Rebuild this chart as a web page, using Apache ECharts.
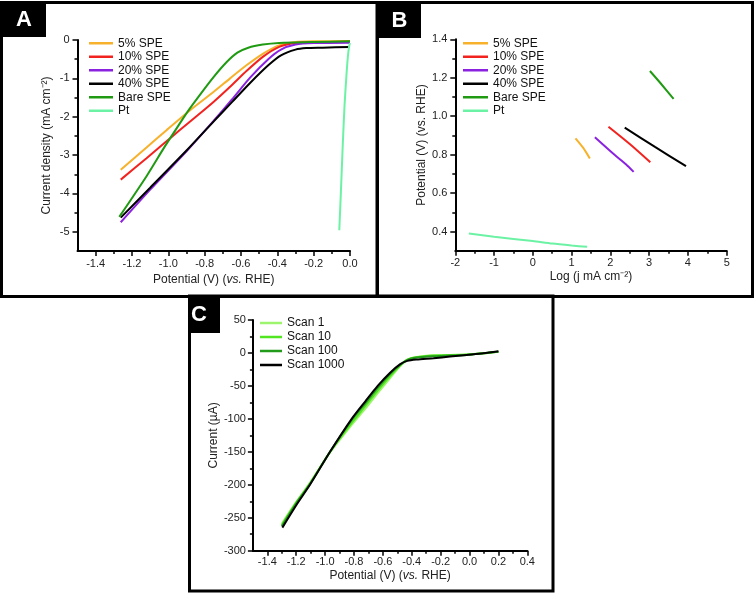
<!DOCTYPE html>
<html><head><meta charset="utf-8">
<script src="https://cdn.jsdelivr.net/npm/echarts@6/dist/echarts.min.js"></script>
<style>html,body{margin:0;padding:0;background:#fff}#c{width:756px;height:594px}</style>
</head><body><div id="c"></div>
<script>
// ---------- Panel A : LSV (current density vs potential) ----------
const namesAB = ['5% SPE','10% SPE','20% SPE','40% SPE','Bare SPE','Pt'];
const colorsAB = ['#F7B12A','#F2221E','#8A22E0','#000000','#1F9A12','#6CF2A4'];
const a5SPE = [[-1.262,-3.38],[-1.12,-2.80],[-1.01,-2.35],[-0.88,-1.83],[-0.75,-1.35],[-0.66,-1.0],[-0.57,-0.66],[-0.48,-0.36],[-0.39,-0.14],[-0.3,-0.055],[-0.2,-0.035],[0,-0.026]];
const a10SPE = [[-1.262,-3.64],[-1.12,-3.08],[-1.02,-2.68],[-0.94,-2.36],[-0.84,-1.97],[-0.75,-1.61],[-0.66,-1.22],[-0.57,-0.81],[-0.48,-0.44],[-0.39,-0.18],[-0.3,-0.08],[-0.2,-0.052],[0,-0.043]];
const a20SPE = [[-1.262,-4.75],[-1.1,-3.9],[-0.9,-2.9],[-0.75,-2.1],[-0.65,-1.55],[-0.55,-0.98],[-0.45,-0.5],[-0.38,-0.25],[-0.3,-0.12],[-0.2,-0.08],[0,-0.07]];
const a40SPE = [[-1.262,-4.63],[-1.1,-3.85],[-0.9,-2.88],[-0.75,-2.12],[-0.65,-1.62],[-0.55,-1.12],[-0.45,-0.66],[-0.38,-0.40],[-0.3,-0.25],[-0.24,-0.21],[-0.15,-0.2],[0,-0.18]];
const aBareSPE = [[-1.27,-4.61],[-1.12,-3.55],[-1.02,-2.78],[-0.95,-2.27],[-0.89,-1.84],[-0.82,-1.39],[-0.75,-0.96],[-0.68,-0.58],[-0.62,-0.33],[-0.56,-0.2],[-0.48,-0.12],[-0.39,-0.078],[-0.2,-0.052],[0,-0.035]];
const aPt = [[-0.059,-4.96],[-0.05,-3.95],[-0.04,-2.75],[-0.03,-1.7],[-0.02,-0.95],[-0.012,-0.45],[-0.005,-0.17],[0,-0.08]];
const aXTicks = [-1.4,-1.2,-1.0,-0.8,-0.6,-0.4,-0.2,0.0];
const aXMinor = [-1.3,-1.1,-0.9,-0.7,-0.5,-0.3,-0.1];
const aYTicks = [0,-1,-2,-3,-4,-5];
const aYMinor = [-0.5,-1.5,-2.5,-3.5,-4.5];

// ---------- Panel B : Tafel ----------
const b5SPE = [[1.1,0.885],[1.3,0.835],[1.47,0.78]];
const b10SPE = [[1.95,0.945],[2.5,0.855],[3.03,0.76]];
const b20SPE = [[1.6,0.89],[2.1,0.8],[2.4,0.75],[2.6,0.71]];
const b40SPE = [[2.37,0.94],[3.15,0.84],[3.95,0.74]];
const bBareSPE = [[3.02,1.235],[3.3,1.17],[3.63,1.09]];
const bPt = [[-1.65,0.39],[-1,0.373],[0,0.35],[0.5,0.337],[1,0.327],[1.4,0.32]];
const bXTicks = [-2,-1,0,1,2,3,4,5];
const bXMinor = [-1.5,-0.5,0.5,1.5,2.5,3.5,4.5];
const bYTicks = [0.4,0.6,0.8,1.0,1.2,1.4];
const bYMinor = [0.5,0.7,0.9,1.1,1.3];

// ---------- Panel C : stability scans ----------
const namesC = ['Scan 1','Scan 10','Scan 100','Scan 1000'];
const colorsC = ['#9CF56C','#52E620','#229A1A','#000000'];
const cScan1 = [[-1.3,-259],[-1.2,-226],[-1.105,-197],[-0.966,-151],[-0.816,-109],[-0.72,-84],[-0.636,-61],[-0.55,-38],[-0.48,-20],[-0.43,-10],[-0.366,-6],[-0.25,-3.5],[-0.135,-3],[-0.02,-2.5],[0.096,-0.5],[0.2,2]];
const cScan10 = [[-1.3,-261],[-1.2,-227],[-1.105,-198],[-0.966,-150],[-0.816,-106],[-0.72,-80],[-0.636,-57],[-0.55,-35],[-0.48,-19],[-0.43,-10],[-0.366,-6.5],[-0.25,-4],[-0.135,-3.5],[-0.02,-2.5],[0.096,-0.5],[0.2,2]];
const cScan100 = [[-1.3,-263],[-1.2,-228],[-1.105,-199],[-0.966,-150],[-0.816,-102],[-0.72,-76],[-0.636,-53],[-0.55,-32],[-0.48,-18],[-0.43,-10.5],[-0.366,-7],[-0.25,-5],[-0.135,-4],[-0.02,-3],[0.096,-0.5],[0.2,2]];
const cScan1000 = [[-1.296,-265],[-1.2,-231],[-1.105,-200],[-0.966,-150],[-0.816,-100],[-0.72,-73],[-0.636,-50],[-0.55,-30],[-0.48,-17],[-0.43,-12],[-0.366,-10],[-0.25,-8],[-0.135,-5.5],[-0.02,-3],[0.096,-0.5],[0.2,2.5]];
const cXTicks = [-1.4,-1.2,-1.0,-0.8,-0.6,-0.4,-0.2,0.0,0.2,0.4];
const cXMinor = [-1.3,-1.1,-0.9,-0.7,-0.5,-0.3,-0.1,0.1,0.3];
const cYTicks = [50,0,-50,-100,-150,-200,-250,-300];
const cYMinor = [25,-25,-75,-125,-175,-225,-275];

const FONT = '"Liberation Sans", Arial, sans-serif';
const chart = echarts.init(document.getElementById('c'), null, {renderer:'canvas'});

function mainAxis(dim, gi, min, max, ticks, fmt, name, nameGap, rich, margin) {
  return {
    type:'value', gridIndex:gi, min:min, max:max,
    position: dim === 'x' ? 'bottom' : 'left',
    axisLine:{show:true, onZero:false, lineStyle:{color:'#000', width:2}},
    axisTick:{show:true, inside:false, length:5, customValues:ticks, lineStyle:{color:'#000', width:1.5}},
    axisLabel:{show:true, customValues:ticks, formatter:fmt, fontSize:11, color:'#222', fontFamily:FONT, margin:margin},
    splitLine:{show:false}, minorTick:{show:false},
    name:name, nameLocation:'middle', nameGap:nameGap,
    nameTextStyle:{fontSize:12, color:'#222', fontFamily:FONT, rich:rich}
  };
}
function minorAxis(dim, gi, min, max, ticks) {
  return {
    type:'value', gridIndex:gi, min:min, max:max,
    position: dim === 'x' ? 'bottom' : 'left',
    axisLine:{show:false, onZero:false},
    axisTick:{show:true, inside:false, length:3, customValues:ticks, lineStyle:{color:'#000', width:1.5}},
    axisLabel:{show:false}, splitLine:{show:false}
  };
}
const f1 = v => v.toFixed(1);
const f0 = v => String(Math.round(v));
const richN = {n:{fontSize:12, color:'#222', fontFamily:FONT}, i:{fontSize:12, color:'#222', fontStyle:'italic', fontFamily:FONT}};
const vsName = '{n|Potential (V) (}{i|vs.}{n| RHE)}';

function lineSeries(name, data, color, idx) {
  return {type:'line', name:name, data:data, xAxisIndex:idx, yAxisIndex:idx,
    showSymbol:false, symbol:'none', smooth:0.25,
    lineStyle:{color:color, width:2}, itemStyle:{color:color}, animation:false};
}

const seriesA = [a5SPE,a10SPE,a20SPE,a40SPE,aBareSPE,aPt];
const seriesB = [b5SPE,b10SPE,b20SPE,b40SPE,bBareSPE,bPt];
const seriesC = [cScan1,cScan10,cScan100,cScan1000];

const series = [];
seriesA.forEach((d,i)=>series.push(lineSeries(namesAB[i], d, colorsAB[i], 0)));
seriesB.forEach((d,i)=>series.push(lineSeries(namesAB[i], d, colorsAB[i], 1)));
seriesC.forEach((d,i)=>series.push(lineSeries(namesC[i], d, colorsC[i], 2)));

const legendBase = {orient:'vertical', icon:'rect', itemHeight:2.5, itemGap:0, selectedMode:false,
  padding:0, textStyle:{fontSize:12, lineHeight:13.5, color:'#111', fontFamily:FONT}};

const option = {
  backgroundColor:'#fff',
  animation:false,
  grid:[
    {left:77.5, top:40, width:272.5, height:211, outerBoundsMode:'none'},
    {left:455.3, top:39.3, width:271.4, height:211.4, outerBoundsMode:'none'},
    {left:252.9, top:320, width:274.4, height:230.7, outerBoundsMode:'none'}
  ],
  xAxis:[
    mainAxis('x',0,-1.5,0,aXTicks,f1,vsName,23,richN,7),
    mainAxis('x',1,-2,5,bXTicks,f0,'Log (j mA cm⁻²)',20,undefined,7),
    mainAxis('x',2,-1.5,0.4,cXTicks,f1,vsName,19,richN,6),
    minorAxis('x',0,-1.5,0,aXMinor),
    minorAxis('x',1,-2,5,bXMinor),
    minorAxis('x',2,-1.5,0.4,cXMinor)
  ],
  yAxis:[
    mainAxis('y',0,-5.5,0,aYTicks,f0,'Current density (mA cm⁻²)',25,undefined,8),
    mainAxis('y',1,0.3,1.4,bYTicks,f1,'Potential (V) (vs. RHE)',28,undefined,8),
    mainAxis('y',2,-300,50,cYTicks,f0,'Current (µA)',30,undefined,7),
    minorAxis('y',0,-5.5,0,aYMinor),
    minorAxis('y',1,0.3,1.4,bYMinor),
    minorAxis('y',2,-300,50,cYMinor)
  ],
  legend:[
    Object.assign({}, legendBase, {left:89, top:36.5, itemWidth:24, data:namesAB}),
    Object.assign({}, legendBase, {left:463, top:36.5, itemWidth:25, data:namesAB}),
    Object.assign({}, legendBase, {left:260, top:316, itemWidth:22, data:namesC,
      textStyle:{fontSize:12, lineHeight:14, color:'#111', fontFamily:FONT}})
  ],
  series:series,
  graphic:[
    {type:'rect', shape:{x:1.5,y:2.5,width:375.5,height:294}, style:{fill:null, stroke:'#000', lineWidth:3}, z:100},
    {type:'rect', shape:{x:377.5,y:2.5,width:375,height:294}, style:{fill:null, stroke:'#000', lineWidth:3}, z:100},
    {type:'rect', shape:{x:189.5,y:296,width:363.5,height:295}, style:{fill:null, stroke:'#000', lineWidth:3}, z:100},
    {type:'rect', shape:{x:2,y:3,width:44,height:34}, style:{fill:'#000'}, z:100},
    {type:'rect', shape:{x:378,y:3,width:43,height:35}, style:{fill:'#000'}, z:100},
    {type:'rect', shape:{x:190,y:297,width:30,height:36}, style:{fill:'#000'}, z:100},
    {type:'text', x:24, y:20, style:{text:'A', fill:'#fff', font:'bold 22px '+FONT, textAlign:'center', textVerticalAlign:'middle'}, z:101},
    {type:'text', x:399.5, y:21, style:{text:'B', fill:'#fff', font:'bold 22px '+FONT, textAlign:'center', textVerticalAlign:'middle'}, z:101},
    {type:'text', x:199, y:315, style:{text:'C', fill:'#fff', font:'bold 22px '+FONT, textAlign:'center', textVerticalAlign:'middle'}, z:101}
  ]
};
chart.setOption(option);
</script>
</body></html>
